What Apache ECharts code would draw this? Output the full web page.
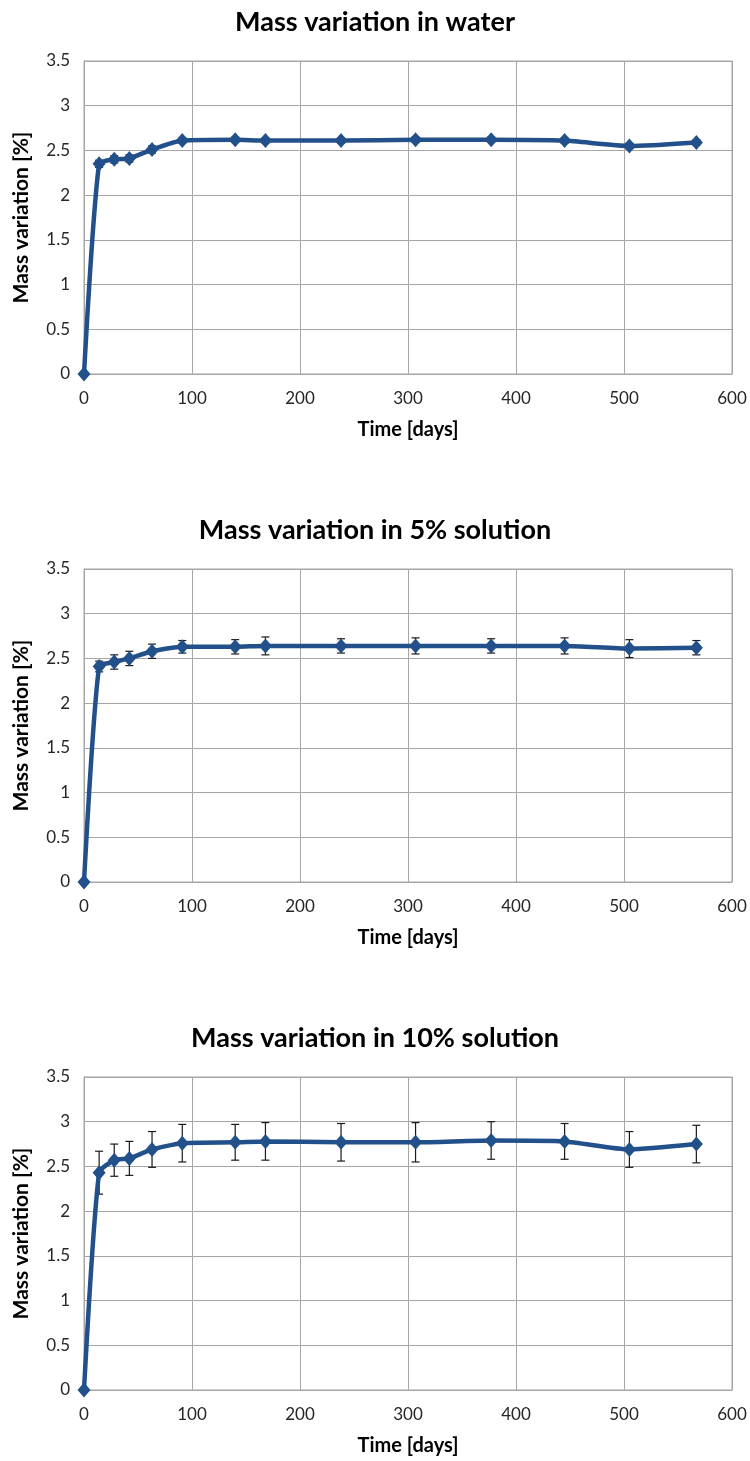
<!DOCTYPE html>
<html>
<head>
<meta charset="utf-8">
<script src="https://cdn.jsdelivr.net/npm/echarts@6/dist/echarts.min.js"></script>
<style>
html,body{margin:0;padding:0;background:#fff;}
#chart{width:750px;height:1461px;}
</style>
</head>
<body>
<div id="chart"></div>
<script>
// ---- data ----
const days = [0, 14, 28, 42, 63, 91, 140, 168, 238, 307, 377, 445, 505, 567];
const waterMean = [0, 2.35, 2.40, 2.41, 2.51, 2.61, 2.62, 2.61, 2.61, 2.62, 2.62, 2.61, 2.55, 2.59];
const waterErr  = [0, 0.04, 0.04, 0.04, 0.04, 0.03, 0.03, 0.03, 0.03, 0.03, 0.03, 0.03, 0.03, 0.03];
const sol5Mean  = [0, 2.41, 2.46, 2.50, 2.58, 2.63, 2.63, 2.64, 2.64, 2.64, 2.64, 2.64, 2.61, 2.62];
const sol5Err   = [0, 0.06, 0.08, 0.08, 0.08, 0.07, 0.08, 0.10, 0.08, 0.09, 0.08, 0.09, 0.10, 0.08];
const sol10Mean = [0, 2.43, 2.57, 2.59, 2.69, 2.76, 2.77, 2.78, 2.77, 2.77, 2.79, 2.78, 2.69, 2.75];
const sol10Err  = [0, 0.24, 0.18, 0.19, 0.20, 0.21, 0.20, 0.21, 0.21, 0.22, 0.21, 0.20, 0.20, 0.21];
const titles = ['Mass variation in water', 'Mass variation in 5% solution', 'Mass variation in 10% solution'];
const xName = 'Time [days]';
const yName = 'Mass variation [%]';

const panels = [
  {mean: waterMean, err: waterErr},
  {mean: sol5Mean, err: sol5Err},
  {mean: sol10Mean, err: sol10Err}
];

const FONT = 'Lato, "Open Sans", sans-serif';
const LINE = '#22508A';
const tops = [61, 569, 1077];

const option = {
  animation: false,
  backgroundColor: '#fff',
  title: titles.map((t, i) => ({
    text: t, left: 'center', top: tops[i] - 57,
    textStyle: {fontFamily: FONT, fontWeight: 'bold', fontSize: 27, color: '#000'}
  })),
  grid: tops.map(t => ({left: 84, right: 18, top: t, height: 313, show: true, borderColor: '#a6a6a6', borderWidth: 1})),
  xAxis: tops.map((t, i) => ({
    type: 'value', gridIndex: i, min: 0, max: 600, interval: 100,
    name: xName, nameLocation: 'middle', nameGap: 46,
    nameTextStyle: {fontFamily: FONT, fontWeight: 'bold', fontSize: 20, color: '#000'},
    axisLine: {show: true, lineStyle: {color: '#a6a6a6'}},
    axisTick: {show: false},
    axisLabel: {fontFamily: FONT, fontSize: 17, color: '#262626', margin: 16},
    splitLine: {show: true, lineStyle: {color: '#a6a6a6', width: 1}}
  })),
  yAxis: tops.map((t, i) => ({
    type: 'value', gridIndex: i, min: 0, max: 3.5, interval: 0.5,
    name: yName, nameLocation: 'middle', nameGap: 52, nameRotate: 90,
    nameTextStyle: {fontFamily: FONT, fontWeight: 'bold', fontSize: 21, color: '#000'},
    axisLine: {show: true, lineStyle: {color: '#a6a6a6'}},
    axisTick: {show: false},
    axisLabel: {fontFamily: FONT, fontSize: 17, color: '#262626', margin: 14},
    splitLine: {show: true, lineStyle: {color: '#a6a6a6', width: 1}}
  })),
  series: []
};

panels.forEach((p, i) => {
  option.series.push({
    type: 'custom', xAxisIndex: i, yAxisIndex: i, z: 1,
    data: days.map((d, k) => [d, p.mean[k] - p.err[k], p.mean[k] + p.err[k]]),
    encode: {x: 0, y: [1, 2]},
    renderItem: function (params, api) {
      const x = api.value(0);
      const lo = api.coord([x, api.value(1)]);
      const hi = api.coord([x, api.value(2)]);
      const w = 4;
      const st = {stroke: '#1a1a1a', lineWidth: 1.2};
      return {
        type: 'group',
        children: [
          {type: 'line', shape: {x1: lo[0], y1: lo[1], x2: hi[0], y2: hi[1]}, style: st},
          {type: 'line', shape: {x1: lo[0] - w, y1: lo[1], x2: lo[0] + w, y2: lo[1]}, style: st},
          {type: 'line', shape: {x1: hi[0] - w, y1: hi[1], x2: hi[0] + w, y2: hi[1]}, style: st}
        ]
      };
    }
  });
  option.series.push({
    type: 'line', xAxisIndex: i, yAxisIndex: i, z: 2,
    data: days.map((d, k) => [d, p.mean[k]]),
    smooth: 0.2,
    symbol: 'diamond', symbolSize: [13, 15],
    lineStyle: {color: LINE, width: 4.5},
    itemStyle: {color: LINE}
  });
});

const chart = echarts.init(document.getElementById('chart'), null, {renderer: 'canvas'});
chart.setOption(option);
</script>
</body>
</html>
